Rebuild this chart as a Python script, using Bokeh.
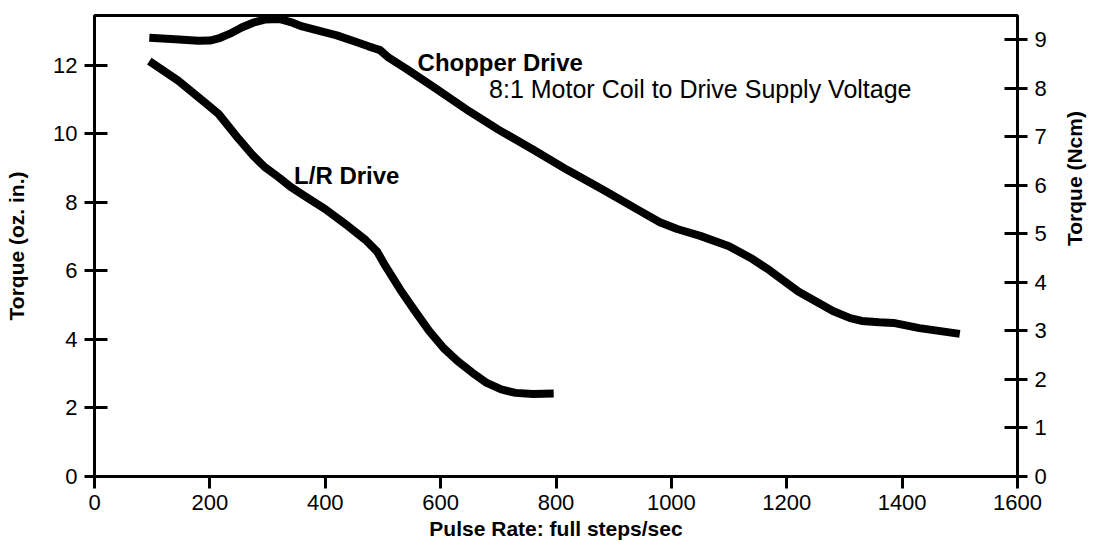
import math
from bokeh.plotting import figure
from bokeh.models import Range1d, LinearAxis, FixedTicker
from bokeh.core.properties import value
from bokeh.embed import file_html
from bokeh.resources import INLINE

# Chopper Drive curve (pulse rate, torque oz-in)
chopper_x = [95, 140, 180, 200, 215, 235, 255, 275, 295, 320, 340, 360, 390, 420, 450, 475,
             495, 510, 540, 590, 650, 700, 760, 820, 880, 940, 980, 1010, 1050, 1100, 1140,
             1170, 1220, 1280, 1310, 1330, 1360, 1385, 1430, 1500]
chopper_y = [12.80, 12.76, 12.71, 12.72, 12.78, 12.92, 13.10, 13.24, 13.33, 13.35, 13.26,
             13.13, 13.00, 12.87, 12.70, 12.55, 12.44, 12.22, 11.90, 11.34, 10.65, 10.12,
             9.54, 8.94, 8.38, 7.80, 7.42, 7.22, 7.02, 6.72, 6.35, 6.02, 5.40, 4.83, 4.62,
             4.54, 4.50, 4.48, 4.33, 4.16]

# L/R Drive curve
lr_x = [95, 145, 190, 215, 250, 275, 295, 320, 340, 370, 400, 440, 470, 490, 505, 530,
        555, 580, 605, 630, 655, 680, 705, 730, 760, 796]
lr_y = [12.12, 11.55, 10.93, 10.58, 9.85, 9.36, 9.03, 8.72, 8.45, 8.12, 7.80, 7.30, 6.90,
        6.56, 6.12, 5.45, 4.84, 4.25, 3.75, 3.36, 3.03, 2.73, 2.54, 2.44, 2.41, 2.42]

x_ticks = [0, 200, 400, 600, 800, 1000, 1200, 1400, 1600]
y_ticks_oz = [0, 2, 4, 6, 8, 10, 12]
y_ticks_ncm = [0, 1, 2, 3, 4, 5, 6, 7, 8, 9]
OZIN_TO_NCM = 0.7062
Y_MAX = 13.45

FONT = "Liberation Sans"

p = figure(width=1101, height=547, output_backend="svg", toolbar_location=None,
           x_range=Range1d(0, 1600), y_range=Range1d(0, Y_MAX),
           min_border_left=94, min_border_right=84, min_border_top=15, min_border_bottom=71)
p.extra_y_ranges = {"ncm": Range1d(0, Y_MAX * OZIN_TO_NCM)}
p.grid.visible = False
p.outline_line_color = "black"
p.outline_line_width = 3
p.background_fill_color = "white"
p.border_fill_color = "white"

p.line(chopper_x, chopper_y, line_width=8, line_color="black", line_join="round", line_cap="butt")
p.line(lr_x, lr_y, line_width=8, line_color="black", line_join="round", line_cap="butt")

# annotations
p.text(x=[560], y=[12.09], text=["Chopper Drive"], text_font=value(FONT), text_font_size="24px",
       text_font_style="bold", text_color="black", text_baseline="alphabetic", text_align="left")
p.text(x=[684], y=[11.32], text=["8:1 Motor Coil to Drive Supply Voltage"], text_font=value(FONT),
       text_font_size="25px", text_color="black", text_baseline="alphabetic", text_align="left")
p.text(x=[346], y=[8.79], text=["L/R Drive"], text_font=value(FONT), text_font_size="24px",
       text_font_style="bold", text_color="black", text_baseline="alphabetic", text_align="left")

def style(ax, tin, tout):
    ax.axis_line_width = 3
    ax.axis_line_color = "black"
    ax.major_tick_line_width = 3
    ax.major_tick_line_color = "black"
    ax.major_tick_in = tin
    ax.major_tick_out = tout
    ax.minor_tick_line_color = None
    ax.major_label_text_font = FONT
    ax.major_label_text_font_size = "22px"
    ax.major_label_text_color = "black"
    ax.axis_label_text_font = FONT
    ax.axis_label_text_font_size = "21px"
    ax.axis_label_text_font_style = "bold"
    ax.axis_label_text_color = "black"

xa = p.xaxis[0]
style(xa, 0, 12)
xa.ticker = FixedTicker(ticks=x_ticks)
xa.axis_label = "Pulse Rate: full steps/sec"
xa.major_label_standoff = 6
xa.axis_label_standoff = 4

ya = p.yaxis[0]
style(ya, 13, 10)
ya.ticker = FixedTicker(ticks=y_ticks_oz)
ya.axis_label = "Torque (oz. in.)"
ya.major_label_standoff = 7
ya.axis_label_standoff = 22

ra = LinearAxis(y_range_name="ncm", ticker=FixedTicker(ticks=y_ticks_ncm), axis_label="Torque (Ncm)")
style(ra, 13, 10)
ra.major_label_standoff = 7
ra.axis_label_standoff = 25
ra.axis_label_orientation = math.pi / 2
p.add_layout(ra, "right")

open("out.html", "w").write(file_html(p, INLINE))
